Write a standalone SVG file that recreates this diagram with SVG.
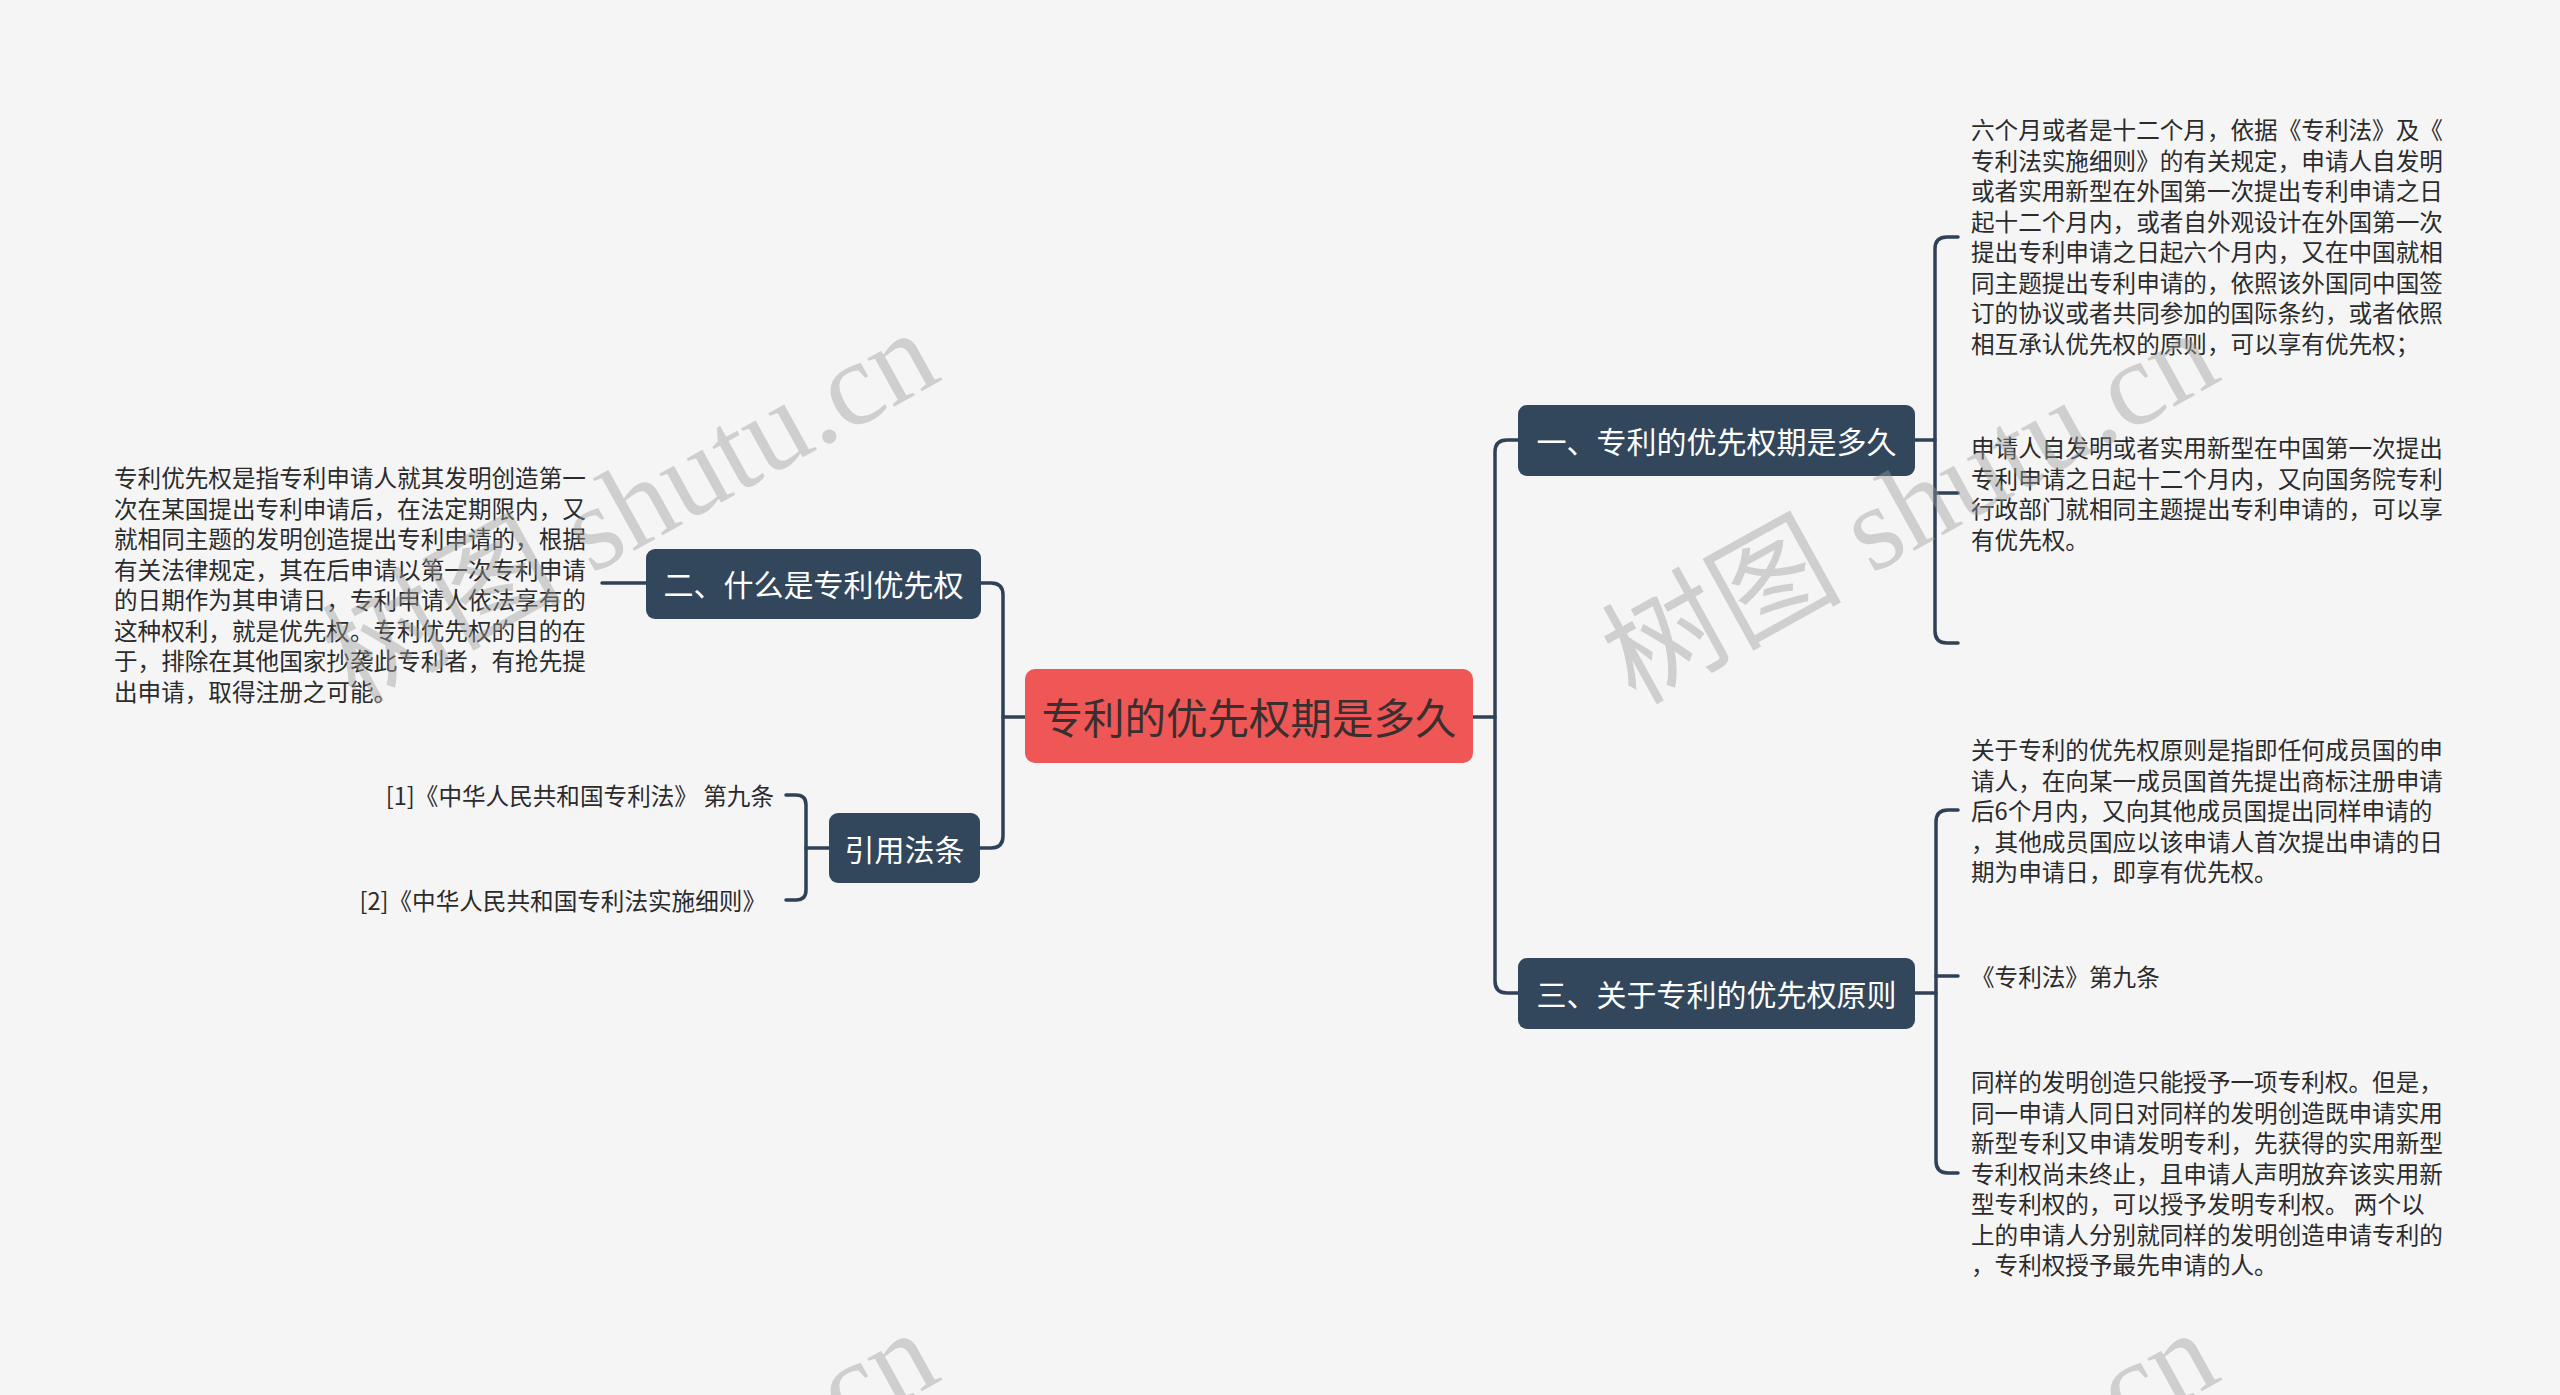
<svg xmlns="http://www.w3.org/2000/svg" width="2560" height="1395" viewBox="0 0 2560 1395">
<style>
.bg{fill:#f5f5f5}
.ln{fill:none;stroke:#2e4156;stroke-width:3.5;stroke-linecap:round}
.nd{fill:#33475c}
.root{fill:#ef5656}
.nt{font-family:"Noto Sans CJK SC","Noto Sans",sans-serif;font-size:30px;fill:#ffffff;text-anchor:middle;dominant-baseline:central}
.rt{font-family:"Noto Sans CJK SC","Noto Sans",sans-serif;font-size:41.5px;fill:#3a2f2f;text-anchor:middle;dominant-baseline:central}
.tx{font-family:"Noto Sans CJK SC","Noto Sans",sans-serif;font-size:23.6px;fill:#2b2b2b;dominant-baseline:central}
.wm{font-family:"Liberation Serif","Noto Sans CJK SC",serif;font-size:120px;fill:#9a9a9a;fill-opacity:0.42;text-anchor:end}
</style>
<rect class="bg" x="0" y="0" width="2560" height="1395"/>
<g id="connectors">
<path class="ln" d="M1025,717 H1003"/>
<path class="ln" d="M981,583 H991 Q1003,583 1003,595 V836 Q1003,848 991,848 H980"/>
<path class="ln" d="M1473,717 H1495"/>
<path class="ln" d="M1518,440 H1507 Q1495,440 1495,452 V981 Q1495,993 1507,993 H1518"/>
<path class="ln" d="M1915,440 H1935"/>
<path class="ln" d="M1958,237 H1947 Q1935,237 1935,249 V631 Q1935,643 1947,643 H1958"/>
<path class="ln" d="M1935,493 H1958"/>
<path class="ln" d="M1915,993 H1936"/>
<path class="ln" d="M1958,810 H1948 Q1936,810 1936,822 V1161 Q1936,1173 1948,1173 H1958"/>
<path class="ln" d="M1936,976 H1958"/>
<path class="ln" d="M829,848 H806"/>
<path class="ln" d="M786,795 H796 Q806,795 806,805 V890 Q806,900 796,900 H786"/>
<path class="ln" d="M646,583 H602"/>
</g>
<g id="root">
<rect class="root" x="1025" y="669" width="448" height="94" rx="10"/>
<text class="rt" x="1249" y="716">专利的优先权期是多久</text>
</g>
<g id="n1">
<rect class="nd" x="1518" y="405" width="397" height="71" rx="9"/>
<text class="nt" x="1716.5" y="440">一、专利的优先权期是多久</text>
</g>
<g id="n3">
<rect class="nd" x="1518" y="958" width="397" height="71" rx="9"/>
<text class="nt" x="1716.5" y="993">三、关于专利的优先权原则</text>
</g>
<g id="n2">
<rect class="nd" x="646" y="549" width="335" height="70" rx="9"/>
<text class="nt" x="813.5" y="583">二、什么是专利优先权</text>
</g>
<g id="n4">
<rect class="nd" x="829" y="813" width="151" height="70" rx="9"/>
<text class="nt" x="904.5" y="848">引用法条</text>
</g>
<g id="n2a">
<text class="tx" x="114" y="477">专利优先权是指专利申请人就其发明创造第一</text>
<text class="tx" x="114" y="507.5">次在某国提出专利申请后，在法定期限内，又</text>
<text class="tx" x="114" y="538">就相同主题的发明创造提出专利申请的，根据</text>
<text class="tx" x="114" y="568.5">有关法律规定，其在后申请以第一次专利申请</text>
<text class="tx" x="114" y="599">的日期作为其申请日，专利申请人依法享有的</text>
<text class="tx" x="114" y="629.5">这种权利，就是优先权。专利优先权的目的在</text>
<text class="tx" x="114" y="660">于，排除在其他国家抄袭此专利者，有抢先提</text>
<text class="tx" x="114" y="690.5">出申请，取得注册之可能。</text>
</g>
<g id="n4a">
<text class="tx" x="774" y="795" text-anchor="end">[1]《中华人民共和国专利法》 第九条</text>
</g>
<g id="n4b">
<text class="tx" x="766" y="900" text-anchor="end">[2]《中华人民共和国专利法实施细则》</text>
</g>
<g id="n1a">
<text class="tx" x="1971" y="129">六个月或者是十二个月，依据《专利法》及《</text>
<text class="tx" x="1971" y="159.5">专利法实施细则》的有关规定，申请人自发明</text>
<text class="tx" x="1971" y="190">或者实用新型在外国第一次提出专利申请之日</text>
<text class="tx" x="1971" y="220.5">起十二个月内，或者自外观设计在外国第一次</text>
<text class="tx" x="1971" y="251">提出专利申请之日起六个月内，又在中国就相</text>
<text class="tx" x="1971" y="281.5">同主题提出专利申请的，依照该外国同中国签</text>
<text class="tx" x="1971" y="312">订的协议或者共同参加的国际条约，或者依照</text>
<text class="tx" x="1971" y="342.5">相互承认优先权的原则，可以享有优先权；</text>
</g>
<g id="n1b">
<text class="tx" x="1971" y="447">申请人自发明或者实用新型在中国第一次提出</text>
<text class="tx" x="1971" y="477.5">专利申请之日起十二个月内，又向国务院专利</text>
<text class="tx" x="1971" y="508">行政部门就相同主题提出专利申请的，可以享</text>
<text class="tx" x="1971" y="538.5">有优先权。</text>
</g>
<g id="n3a">
<text class="tx" x="1971" y="749">关于专利的优先权原则是指即任何成员国的申</text>
<text class="tx" x="1971" y="779.5">请人，在向某一成员国首先提出商标注册申请</text>
<text class="tx" x="1971" y="810">后6个月内，又向其他成员国提出同样申请的</text>
<text class="tx" x="1971" y="840.5">，其他成员国应以该申请人首次提出申请的日</text>
<text class="tx" x="1971" y="871">期为申请日，即享有优先权。</text>
</g>
<g id="n3b">
<text class="tx" x="1971" y="976">《专利法》第九条</text>
</g>
<g id="n3c">
<text class="tx" x="1971" y="1081">同样的发明创造只能授予一项专利权。但是，</text>
<text class="tx" x="1971" y="1111.5">同一申请人同日对同样的发明创造既申请实用</text>
<text class="tx" x="1971" y="1142">新型专利又申请发明专利，先获得的实用新型</text>
<text class="tx" x="1971" y="1172.5">专利权尚未终止，且申请人声明放弃该实用新</text>
<text class="tx" x="1971" y="1203">型专利权的，可以授予发明专利权。 两个以</text>
<text class="tx" x="1971" y="1233.5">上的申请人分别就同样的发明创造申请专利的</text>
<text class="tx" x="1971" y="1264">，专利权授予最先申请的人。</text>
</g>
<g id="watermarks">
<text class="wm" transform="translate(944,379) rotate(-29)">树图 shutu.cn</text>
<text class="wm" transform="translate(2224,379) rotate(-29)">树图 shutu.cn</text>
<text class="wm" transform="translate(944,1379) rotate(-29)">树图 shutu.cn</text>
<text class="wm" transform="translate(2224,1379) rotate(-29)">树图 shutu.cn</text>
</g>
</svg>
